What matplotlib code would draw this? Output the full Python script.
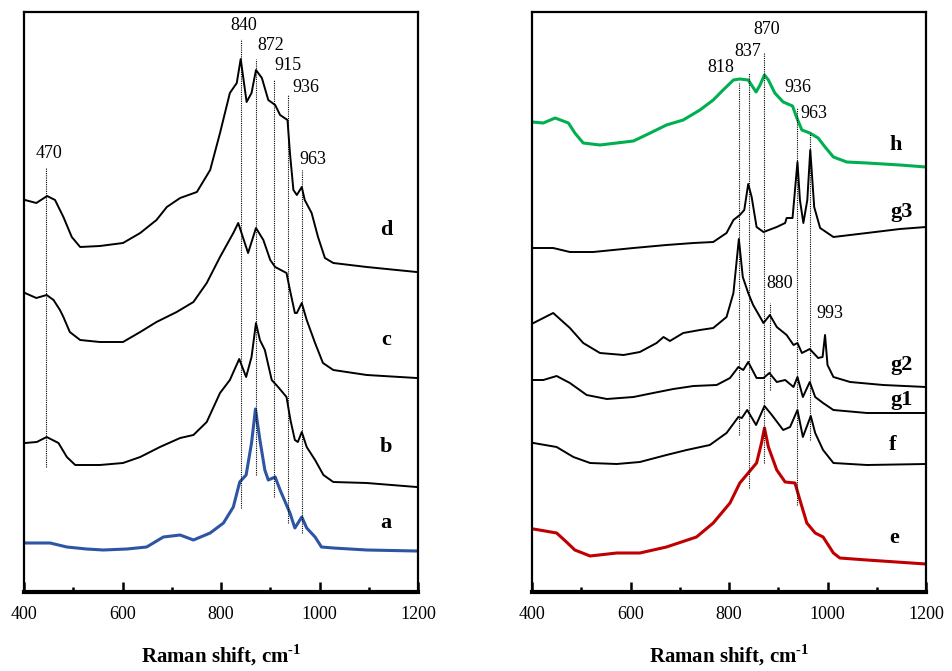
import matplotlib
matplotlib.use('Agg')
import matplotlib.pyplot as plt
from matplotlib.ticker import MultipleLocator

plt.rcParams['font.family'] = ['Liberation Serif', 'DejaVu Serif']
plt.rcParams['mathtext.fontset'] = 'custom'
plt.rcParams['mathtext.rm'] = 'Liberation Serif'
plt.rcParams['mathtext.bf'] = 'Liberation Serif:bold'

# ---- left panel spectra (Raman shift, arbitrary intensity with offsets) ----
a_x = [402, 453, 487, 527, 561, 609, 649, 683, 717, 744, 778, 805, 825, 838, 851, 862, 870, 879, 889, 896,
       910, 920, 933, 940, 950, 964, 974, 991, 1004, 1028, 1096, 1197]
a_y = [49, 49, 45, 43, 42, 43, 45, 55, 57, 52, 59, 69, 85, 110, 117, 149, 183, 152, 122, 112,
       115, 102, 87, 79, 64, 75, 64, 55, 45, 44, 42, 41]

b_x = [402, 426, 446, 470, 487, 504, 554, 601, 636, 676, 717, 744, 771, 798, 818, 837, 851, 862, 871, 879,
       889, 903, 916, 933, 941, 950, 956, 964, 974, 991, 1008, 1028, 1096, 1197]
b_y = [149, 150, 155, 149, 135, 127, 127, 129, 135, 145, 154, 157, 170, 199, 212, 233, 215, 235, 269, 252,
       242, 212, 205, 195, 172, 152, 150, 160, 145, 132, 117, 110, 109, 105]

c_x = [402, 425, 446, 460, 473, 480, 493, 514, 554, 601, 636, 669, 710, 744, 771, 798, 825, 835, 855, 871,
       886, 900, 910, 933, 940, 950, 954, 964, 974, 991, 1007, 1028, 1096, 1197]
c_y = [299, 294, 297, 292, 282, 275, 260, 252, 250, 250, 260, 270, 280, 290, 309, 335, 359, 369, 339, 364,
       352, 332, 325, 319, 302, 279, 279, 289, 272, 249, 229, 222, 217, 214]

d_x = [402, 425, 447, 463, 480, 497, 514, 554, 601, 636, 669, 690, 717, 751, 778, 798, 818, 832, 840, 852,
       862, 871, 883, 896, 910, 920, 935, 940, 947, 954, 964, 970, 984, 997, 1011, 1028, 1096, 1197]
d_y = [392, 389, 396, 392, 375, 355, 345, 346, 349, 359, 372, 385, 394, 400, 422, 459, 499, 509, 533, 490,
       499, 522, 514, 492, 487, 477, 472, 439, 402, 397, 405, 392, 379, 355, 334, 329, 325, 320]

# ---- right panel spectra ----
e_x = [403, 450, 470, 487, 518, 572, 619, 673, 734, 768, 802, 822, 839, 856, 866, 872, 880, 897, 914, 934,
       944, 958, 975, 991, 1012, 1025, 1080, 1200]
e_y = [63, 59, 50, 42, 36, 39, 39, 45, 55, 69, 89, 109, 119, 129, 149, 164, 145, 122, 110, 109,
       92, 69, 59, 55, 39, 34, 32, 28]

f_x = [403, 450, 484, 518, 572, 619, 673, 714, 761, 795, 819, 826, 837, 855, 872, 887, 910, 924, 939, 950,
       966, 975, 991, 1012, 1080, 1200]
f_y = [149, 145, 135, 129, 128, 130, 137, 142, 147, 159, 175, 174, 182, 167, 186, 177, 162, 165, 182, 155,
       176, 159, 142, 129, 127, 128]

g1_x = [403, 423, 450, 477, 511, 552, 606, 646, 687, 728, 775, 802, 819, 829, 839, 856, 870, 882, 897, 914,
        931, 939, 950, 964, 975, 991, 1012, 1080, 1200]
g1_y = [212, 212, 216, 209, 197, 193, 195, 199, 203, 206, 207, 214, 225, 222, 230, 214, 214, 219, 210, 212,
        205, 215, 195, 210, 195, 189, 182, 179, 179]

g2_x = [403, 443, 477, 504, 538, 586, 619, 653, 667, 680, 707, 741, 768, 795, 809, 820, 828, 839, 849, 870,
        883, 897, 917, 931, 939, 948, 964, 981, 990, 995, 1000, 1012, 1046, 1113, 1200]
g2_y = [269, 279, 264, 249, 239, 237, 240, 249, 255, 251, 259, 262, 264, 275, 299, 353, 315, 299, 287, 269,
        277, 265, 257, 247, 249, 239, 243, 234, 235, 257, 227, 215, 210, 207, 205]

g3_x = [403, 443, 477, 524, 606, 673, 728, 768, 795, 809, 822, 831, 839, 846, 856, 870, 897, 914, 917, 929,
        939, 944, 951, 959, 965, 973, 985, 1012, 1080, 1147, 1200]
g3_y = [344, 344, 340, 340, 344, 347, 349, 350, 359, 372, 377, 382, 408, 395, 365, 360, 365, 369, 374, 374,
        430, 392, 369, 392, 442, 385, 364, 355, 359, 363, 365]

h_x = [400, 423, 447, 474, 487, 504, 538, 572, 606, 640, 673, 707, 741, 768, 788, 809, 822, 839, 855, 863,
       872, 880, 893, 910, 929, 937, 948, 964, 981, 995, 1012, 1039, 1080, 1147, 1200]
h_y = [470, 469, 474, 469, 459, 449, 447, 449, 451, 459, 467, 472, 482, 492, 502, 512, 513, 512, 500, 507,
       517, 512, 499, 490, 486, 475, 462, 459, 454, 445, 435, 430, 429, 427, 425]

# peak markers: position, dotted line from/to, label
left_peaks = [445, 840, 871, 908, 937, 964]
left_tops = [425, 553, 533, 512, 497, 422]
left_bottoms = [125, 84, 117, 95, 69, 59]
left_labels = ['470', '840', '872', '915', '936', '963']

right_peaks = [820, 841, 872, 883, 939, 964]
right_tops = [509, 519, 539, 289, 484, 459]
right_bottoms = [157, 104, 129, 202, 87, 152]
right_labels = ['818', '837', '870', '880', '936', '963', '993']

BLUE = '#2E55A3'
GREEN = '#00B050'
RED = '#C00000'

fig = plt.figure(figsize=(9.52, 6.71), dpi=100)
ax1 = fig.add_axes([24 / 952, 79 / 671, 394 / 952, 580 / 671])
ax2 = fig.add_axes([532 / 952, 79 / 671, 394 / 952, 580 / 671])

ax1.plot(a_x, a_y, color=BLUE, lw=2.2)
ax1.plot(b_x, b_y, color='black', lw=1.4)
ax1.plot(c_x, c_y, color='black', lw=1.4)
ax1.plot(d_x, d_y, color='black', lw=1.4)

ax2.plot(e_x, e_y, color=RED, lw=2.2)
ax2.plot(f_x, f_y, color='black', lw=1.4)
ax2.plot(g1_x, g1_y, color='black', lw=1.4)
ax2.plot(g2_x, g2_y, color='black', lw=1.4)
ax2.plot(g3_x, g3_y, color='black', lw=1.4)
ax2.plot(h_x, h_y, color=GREEN, lw=2.2)

# dotted guide lines
ax1.vlines(left_peaks, left_bottoms, left_tops, colors='black', linestyles=(0, (1, 1)), lw=0.8)
ax2.vlines(right_peaks, right_bottoms, right_tops, colors='black', linestyles=(0, (1, 1)), lw=0.8)

# peak labels
lab_kw = dict(fontsize=13, ha='center', va='center')
left_label_pos = [(451, 439), (847, 566), (901, 546), (936, 526), (973, 505), (986, 432)]
for txt, (x, y) in zip(left_labels, left_label_pos):
    ax1.text(x, y, txt, **lab_kw)
right_label_pos = [(783, 524), (839, 541), (876, 563), (903, 309), (939, 504), (973, 479), (1005, 279)]
for txt, (x, y) in zip(right_labels, right_label_pos):
    ax2.text(x, y, txt, **lab_kw)

# curve names
name_kw = dict(fontsize=16, fontweight='bold', ha='center', va='center')
for txt, y in [('d', 362), ('c', 252), ('b', 145), ('a', 69)]:
    ax1.text(1135, y, txt, **name_kw)
for txt, x, y in [('h', 1138, 447), ('g3', 1150, 380), ('g2', 1150, 227),
                  ('g1', 1150, 192), ('f', 1133, 147), ('e', 1135, 54)]:
    ax2.text(x, y, txt, **name_kw)

for ax in (ax1, ax2):
    ax.set_xlim(400, 1200)
    ax.set_ylim(0, 580)
    ax.set_yticks([])
    ax.xaxis.set_major_locator(MultipleLocator(200))
    ax.xaxis.set_minor_locator(MultipleLocator(100))
    ax.tick_params(axis='x', which='major', direction='in', length=7, width=1.8, labelsize=13, pad=10)
    ax.tick_params(axis='x', which='minor', direction='in', length=3.5, width=1.8)
    for side in ('left', 'right', 'top'):
        ax.spines[side].set_linewidth(1.6)
    ax.spines['bottom'].set_linewidth(3)
    ax.set_xlabel(r'Raman shift, cm$^{\mathbf{\text{-}1}}$', fontsize=15, fontweight='bold', labelpad=14)

plt.savefig('out.png', dpi=100)
